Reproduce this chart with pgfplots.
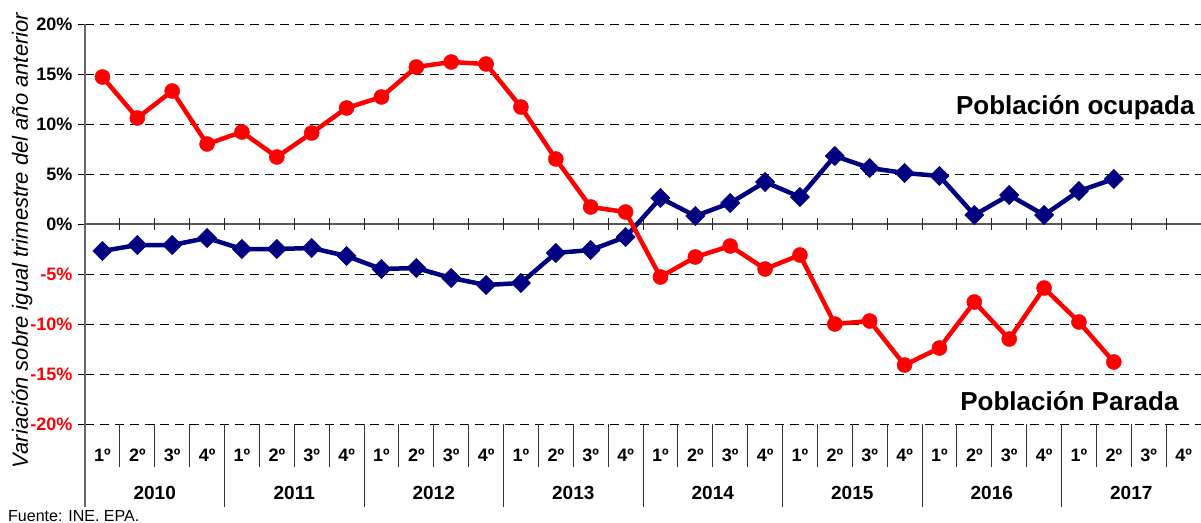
\documentclass[border=0pt]{standalone}
\usepackage{pgfplots}
\pgfplotsset{compat=1.18}
\usepackage{fontspec}
\setmainfont{Liberation Sans}
\usetikzlibrary{calc}
\definecolor{navy}{RGB}{0,0,128}
\definecolor{myred}{RGB}{255,0,0}
\begin{document}
\begin{tikzpicture}
\begin{axis}[
  scale only axis, width=1116pt, height=400pt,
  xmin=0, xmax=32, ymin=-20, ymax=20,
  clip=false,
  axis line style={draw=none},
  xtick={0.5,1.5,...,31.5},
  xticklabels={1º,2º,3º,4º,1º,2º,3º,4º,1º,2º,3º,4º,1º,2º,3º,4º,1º,2º,3º,4º,1º,2º,3º,4º,1º,2º,3º,4º,1º,2º,3º,4º},
  xtick style={draw=none},
  xticklabel style={font=\fontsize{18}{20}\selectfont\bfseries, anchor=center, yshift=-24pt},
  ytick={-20,-15,...,20},
  yticklabels={\textcolor{myred}{-20\%},\textcolor{myred}{-15\%},\textcolor{myred}{-10\%},\textcolor{myred}{-5\%},0\%,5\%,10\%,15\%,20\%},
  ytick pos=left,
  tick align=outside,
  major tick length=7pt,
  ytick style={draw=black, line width=0.8pt},
  yticklabel style={font=\fontsize{18}{20}\selectfont\bfseries, xshift=-2pt},
  ymajorgrids,
  grid style={black, line width=0.8pt, dash pattern=on 9pt off 6pt},
]
\coordinate (bl) at (rel axis cs:0,0);
\coordinate (tr) at (rel axis cs:1,1);
% zero line and its ticks
\draw[black!65, line width=1.5pt] (axis cs:0,0) -- (axis cs:32,0);
\pgfplotsinvokeforeach{1,...,31}{\draw[black!85, line width=0.9pt] ([yshift=-6pt]axis cs:#1,0) -- ([yshift=6pt]axis cs:#1,0);}
% category separators
\pgfplotsinvokeforeach{1,...,31}{\draw[black!80, line width=0.9pt] (axis cs:#1,-20) -- ([yshift=-43pt]axis cs:#1,-20);}
\pgfplotsinvokeforeach{4,8,...,28}{\draw[black!80, line width=0.9pt] (axis cs:#1,-20) -- ([yshift=-83pt]axis cs:#1,-20);}
\draw[black!60, line width=1.5pt] (axis cs:0,20) -- (axis cs:0,-20) -- ([yshift=-83pt]axis cs:0,-20);
% year labels
\node[font=\fontsize{19}{21}\selectfont\bfseries, yshift=-69pt] at (axis cs:2,-20) {2010};
\node[font=\fontsize{19}{21}\selectfont\bfseries, yshift=-69pt] at (axis cs:6,-20) {2011};
\node[font=\fontsize{19}{21}\selectfont\bfseries, yshift=-69pt] at (axis cs:10,-20) {2012};
\node[font=\fontsize{19}{21}\selectfont\bfseries, yshift=-69pt] at (axis cs:14,-20) {2013};
\node[font=\fontsize{19}{21}\selectfont\bfseries, yshift=-69pt] at (axis cs:18,-20) {2014};
\node[font=\fontsize{19}{21}\selectfont\bfseries, yshift=-69pt] at (axis cs:22,-20) {2015};
\node[font=\fontsize{19}{21}\selectfont\bfseries, yshift=-69pt] at (axis cs:26,-20) {2016};
\node[font=\fontsize{19}{21}\selectfont\bfseries, yshift=-69pt] at (axis cs:30,-20) {2017};
% Poblacion ocupada
\addplot[navy, line width=4.5pt, line join=round, mark=square*, mark size=6.8pt,
  mark options={rotate=45, solid, fill=navy, draw=navy, line width=0.5pt}] coordinates {
(0.5,-2.7) (1.5,-2.1) (2.5,-2.1) (3.5,-1.4)
(4.5,-2.5) (5.5,-2.5) (6.5,-2.4) (7.5,-3.2)
(8.5,-4.5) (9.5,-4.4) (10.5,-5.4) (11.5,-6.1)
(12.5,-5.9) (13.5,-2.9) (14.5,-2.6) (15.5,-1.3)
(16.5,2.6) (17.5,0.8) (18.5,2.1) (19.5,4.2)
(20.5,2.7) (21.5,6.8) (22.5,5.6) (23.5,5.1)
(24.5,4.8) (25.5,0.9) (26.5,2.9) (27.5,0.9)
(28.5,3.3) (29.5,4.5)
};
% Poblacion parada
\addplot[myred, line width=4.5pt, line join=round, mark=*, mark size=7.5pt,
  mark options={solid, fill=myred, draw=myred, line width=0.5pt}] coordinates {
(0.5,14.7) (1.5,10.6) (2.5,13.3) (3.5,8.0)
(4.5,9.2) (5.5,6.7) (6.5,9.1) (7.5,11.6)
(8.5,12.7) (9.5,15.7) (10.5,16.2) (11.5,16.0)
(12.5,11.7) (13.5,6.5) (14.5,1.7) (15.5,1.2)
(16.5,-5.3) (17.5,-3.3) (18.5,-2.2) (19.5,-4.5)
(20.5,-3.1) (21.5,-10.0) (22.5,-9.7) (23.5,-14.1)
(24.5,-12.4) (25.5,-7.8) (26.5,-11.5) (27.5,-6.4)
(28.5,-9.8) (29.5,-13.8)
};
\node[anchor=east, font=\fontsize{26}{30}\selectfont\bfseries, xshift=-3pt] at (axis cs:32,11.6) {Población ocupada};
\node[anchor=east, font=\fontsize{26}{30}\selectfont\bfseries, xshift=-19pt] at (axis cs:32,-17.7) {Población Parada};
\end{axis}
\node[rotate=90, font=\fontsize{22}{24}\selectfont\itshape] at ($(bl)!0.5!(bl|-tr)+(-63pt,-16.5pt)$) {Variación sobre igual trimestre del año anterior};
\node[anchor=base west, font=\fontsize{16}{18}\selectfont, inner sep=0pt] at ($(bl)+(-77pt,-97pt)$) {Fuente: INE. EPA.};
\pgfresetboundingbox
\path ($(bl)+(-85pt,-98pt)$) rectangle ($(tr)+(0pt,24pt)$);
\end{tikzpicture}
\end{document}
